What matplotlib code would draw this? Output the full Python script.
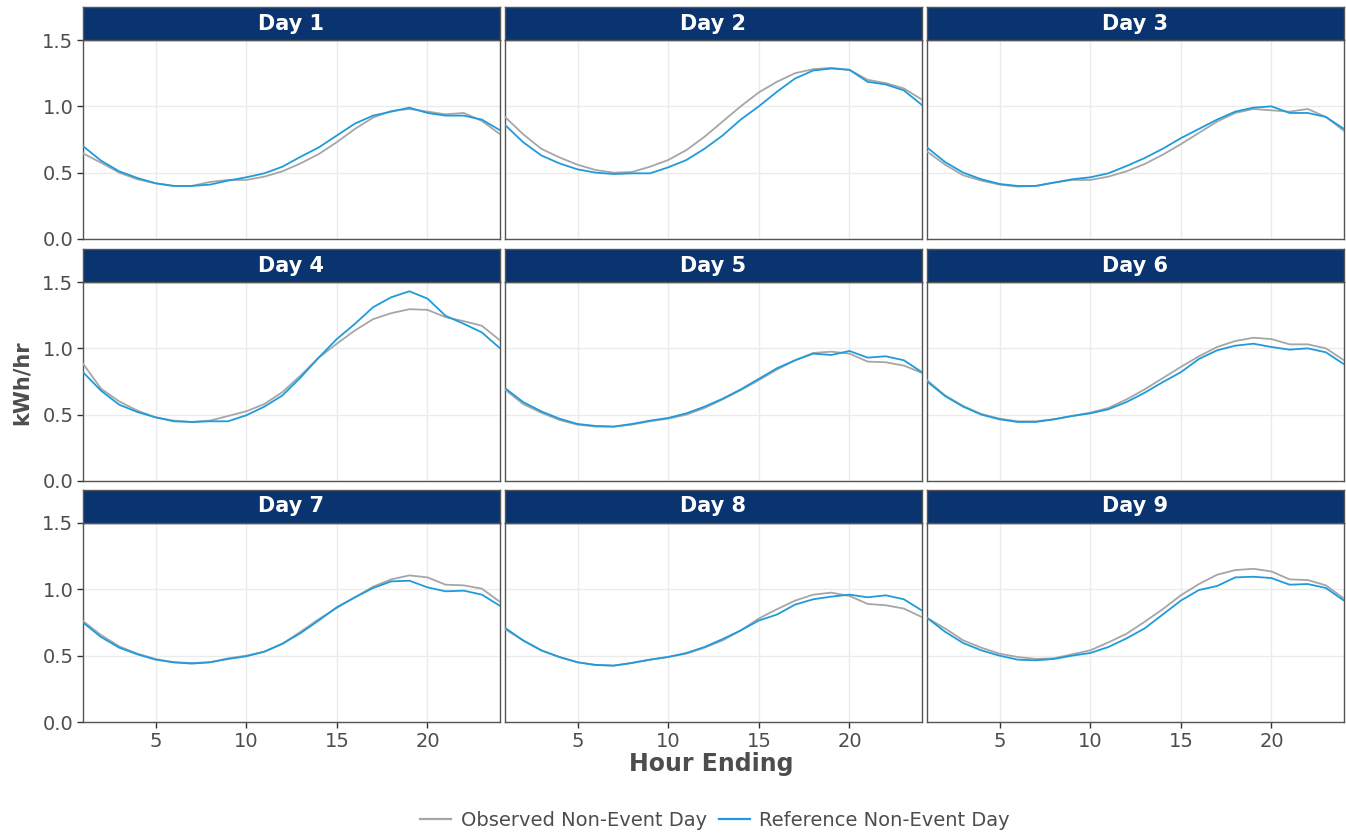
import matplotlib
matplotlib.use("Agg")
import matplotlib.pyplot as plt
from matplotlib.lines import Line2D

hours = list(range(1, 25))
days = [f"Day {i}" for i in range(1, 10)]

observed = {
    "Day 1": [0.645, 0.575, 0.50, 0.45, 0.42, 0.40, 0.40, 0.43, 0.445, 0.445, 0.47, 0.51,
              0.57, 0.64, 0.73, 0.83, 0.915, 0.965, 0.98, 0.96, 0.94, 0.95, 0.89, 0.79],
    "Day 2": [0.92, 0.79, 0.68, 0.615, 0.56, 0.52, 0.50, 0.505, 0.545, 0.595, 0.67, 0.77,
              0.885, 1.00, 1.105, 1.185, 1.25, 1.28, 1.29, 1.275, 1.20, 1.175, 1.135, 1.05],
    "Day 3": [0.66, 0.56, 0.48, 0.44, 0.41, 0.395, 0.40, 0.425, 0.445, 0.445, 0.47, 0.51,
              0.565, 0.635, 0.715, 0.80, 0.885, 0.95, 0.98, 0.97, 0.96, 0.98, 0.92, 0.815],
    "Day 4": [0.885, 0.695, 0.60, 0.53, 0.48, 0.455, 0.445, 0.455, 0.49, 0.525, 0.58, 0.67,
              0.795, 0.93, 1.035, 1.135, 1.22, 1.265, 1.295, 1.29, 1.235, 1.205, 1.17, 1.06],
    "Day 5": [0.69, 0.58, 0.515, 0.46, 0.425, 0.41, 0.41, 0.425, 0.45, 0.47, 0.50, 0.55,
              0.615, 0.685, 0.76, 0.84, 0.91, 0.965, 0.975, 0.96, 0.90, 0.895, 0.87, 0.815],
    "Day 6": [0.76, 0.645, 0.565, 0.505, 0.47, 0.45, 0.45, 0.465, 0.49, 0.515, 0.55, 0.615,
              0.69, 0.775, 0.86, 0.94, 1.01, 1.055, 1.08, 1.07, 1.03, 1.03, 1.00, 0.91],
    "Day 7": [0.76, 0.655, 0.57, 0.515, 0.475, 0.45, 0.445, 0.45, 0.48, 0.50, 0.53, 0.59,
              0.68, 0.775, 0.86, 0.94, 1.02, 1.075, 1.105, 1.09, 1.035, 1.03, 1.005, 0.905],
    "Day 8": [0.70, 0.615, 0.54, 0.49, 0.45, 0.43, 0.425, 0.445, 0.47, 0.49, 0.515, 0.56,
              0.615, 0.69, 0.78, 0.85, 0.915, 0.96, 0.975, 0.95, 0.89, 0.88, 0.855, 0.79],
    "Day 9": [0.785, 0.705, 0.615, 0.56, 0.515, 0.49, 0.475, 0.48, 0.51, 0.54, 0.60, 0.665,
              0.755, 0.85, 0.955, 1.04, 1.11, 1.145, 1.155, 1.135, 1.075, 1.07, 1.03, 0.93],
}

reference = {
    "Day 1": [0.70, 0.59, 0.51, 0.46, 0.42, 0.40, 0.40, 0.41, 0.44, 0.465, 0.495, 0.545,
              0.62, 0.69, 0.78, 0.87, 0.93, 0.96, 0.99, 0.95, 0.93, 0.93, 0.90, 0.82],
    "Day 2": [0.86, 0.73, 0.63, 0.57, 0.525, 0.50, 0.49, 0.495, 0.495, 0.54, 0.595, 0.68,
              0.78, 0.90, 1.00, 1.11, 1.21, 1.27, 1.285, 1.275, 1.185, 1.165, 1.12, 1.01],
    "Day 3": [0.69, 0.58, 0.50, 0.45, 0.415, 0.40, 0.40, 0.425, 0.45, 0.465, 0.495, 0.55,
              0.61, 0.68, 0.76, 0.83, 0.90, 0.96, 0.99, 1.00, 0.95, 0.95, 0.92, 0.83],
    "Day 4": [0.82, 0.68, 0.575, 0.52, 0.48, 0.45, 0.445, 0.45, 0.45, 0.495, 0.56, 0.645,
              0.78, 0.93, 1.07, 1.185, 1.31, 1.385, 1.43, 1.375, 1.245, 1.185, 1.12, 1.00],
    "Day 5": [0.70, 0.595, 0.525, 0.47, 0.43, 0.415, 0.41, 0.43, 0.455, 0.475, 0.51, 0.56,
              0.62, 0.69, 0.77, 0.85, 0.91, 0.96, 0.95, 0.98, 0.93, 0.94, 0.91, 0.82],
    "Day 6": [0.75, 0.64, 0.56, 0.50, 0.465, 0.445, 0.445, 0.465, 0.49, 0.51, 0.54, 0.595,
              0.665, 0.745, 0.82, 0.92, 0.985, 1.02, 1.035, 1.01, 0.99, 1.00, 0.97, 0.88],
    "Day 7": [0.75, 0.64, 0.56, 0.51, 0.47, 0.45, 0.44, 0.45, 0.475, 0.495, 0.53, 0.59,
              0.67, 0.765, 0.865, 0.94, 1.01, 1.06, 1.065, 1.015, 0.985, 0.99, 0.96, 0.875],
    "Day 8": [0.71, 0.615, 0.54, 0.49, 0.45, 0.43, 0.425, 0.445, 0.47, 0.49, 0.52, 0.565,
              0.625, 0.69, 0.765, 0.81, 0.885, 0.925, 0.945, 0.96, 0.94, 0.955, 0.925, 0.84],
    "Day 9": [0.785, 0.68, 0.595, 0.54, 0.50, 0.47, 0.465, 0.475, 0.50, 0.52, 0.565, 0.63,
              0.705, 0.81, 0.915, 0.995, 1.025, 1.09, 1.095, 1.085, 1.035, 1.04, 1.01, 0.915],
}

x_ticks = [5, 10, 15, 20]
y_ticks = [0.0, 0.5, 1.0, 1.5]
y_tick_labels = ["0.0", "0.5", "1.0", "1.5"]
series_labels = ["Observed Non-Event Day", "Reference Non-Event Day"]

OBS_COLOR = "#a6a6a6"
REF_COLOR = "#1f9bdb"
STRIP_COLOR = "#0a3470"
TEXT_COLOR = "#4d4d4d"
BORDER_COLOR = "#555555"
GRID_COLOR = "#ebebeb"

W, H = 1346, 835
fig = plt.figure(figsize=(W / 100, H / 100), dpi=100)
fig.patch.set_facecolor("white")

col_left = [83, 505, 927]
col_width = 417
row_top = [40, 282, 523]
panel_h = 199
strip_h = 33


def frac_rect(x0, y0, w, h):
    # pixel box (top-left origin) -> figure fraction
    return [x0 / W, 1 - (y0 + h) / H, w / W, h / H]


for idx, day in enumerate(days):
    r, c = divmod(idx, 3)
    ax = fig.add_axes(frac_rect(col_left[c], row_top[r], col_width, panel_h))
    ax.plot(hours, observed[day], color=OBS_COLOR, lw=1.3, zorder=3)
    ax.plot(hours, reference[day], color=REF_COLOR, lw=1.3, zorder=4)
    ax.set_xlim(1, 24)
    ax.set_ylim(0, 1.5)
    ax.set_xticks(x_ticks)
    ax.set_yticks(y_ticks)
    ax.grid(True, color=GRID_COLOR, lw=1.0, zorder=0)
    ax.set_axisbelow(True)
    for sp in ax.spines.values():
        sp.set_color(BORDER_COLOR)
        sp.set_linewidth(1.0)
    ax.tick_params(colors=TEXT_COLOR, labelcolor=TEXT_COLOR, labelsize=14,
                   length=4, width=1, color="#333333", pad=3)
    if c == 0:
        ax.set_yticklabels(y_tick_labels)
    else:
        ax.tick_params(axis="y", left=False, labelleft=False)
    if r == 2:
        ax.set_xticklabels([str(t) for t in x_ticks])
    else:
        ax.tick_params(axis="x", bottom=False, labelbottom=False)

    sax = fig.add_axes(frac_rect(col_left[c], row_top[r] - strip_h, col_width, strip_h))
    sax.set_facecolor(STRIP_COLOR)
    sax.set_xticks([])
    sax.set_yticks([])
    for sp in sax.spines.values():
        sp.set_color(BORDER_COLOR)
        sp.set_linewidth(1.0)
    sax.text(0.5, 0.5, day, color="white", fontsize=15, fontweight="bold",
             ha="center", va="center", transform=sax.transAxes)

fig.text(22 / W, 1 - 383 / H, "kWh/hr", rotation=90, ha="center", va="center",
         fontsize=15, fontweight="bold", color=TEXT_COLOR)
fig.text(711 / W, 1 - 764 / H, "Hour Ending", ha="center", va="center",
         fontsize=17, fontweight="bold", color=TEXT_COLOR)

handles = [Line2D([], [], color=OBS_COLOR, lw=1.6),
           Line2D([], [], color=REF_COLOR, lw=1.6)]
leg = fig.legend(handles, series_labels, loc="center", ncol=2,
                 bbox_to_anchor=(715 / W, 1 - 820 / H), frameon=False,
                 fontsize=14, handlelength=1.6, handletextpad=0.5, columnspacing=0.6)
for t in leg.get_texts():
    t.set_color(TEXT_COLOR)

fig.savefig("out.png", dpi=100, facecolor="white")
